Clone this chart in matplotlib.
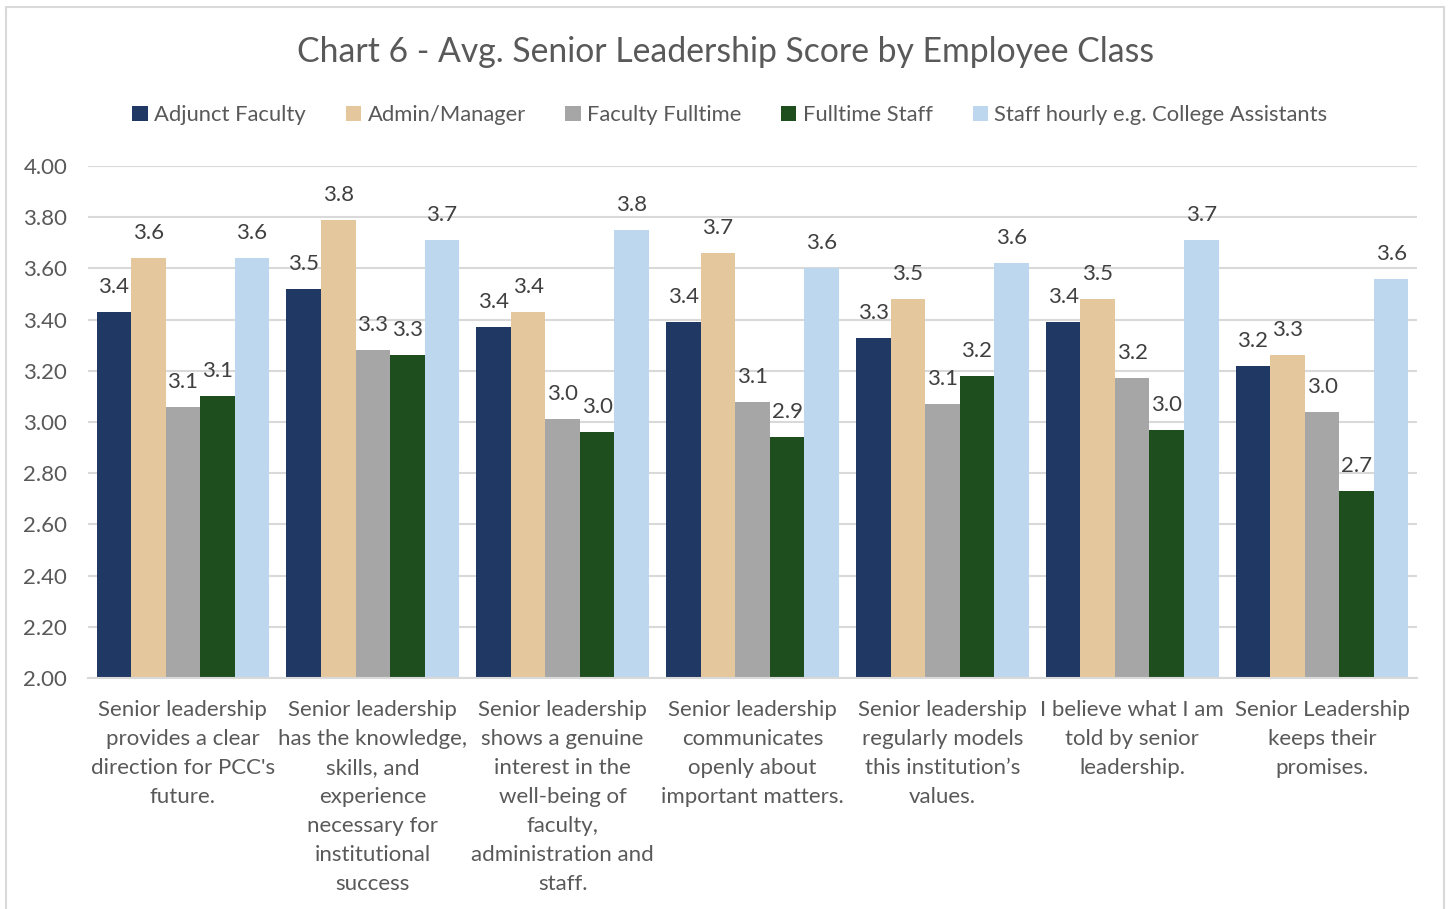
import numpy as np
import matplotlib.pyplot as plt
from matplotlib.patches import Rectangle

plt.rcParams['font.family'] = ['Lato', 'DejaVu Sans']

# === Data ===
categories = [
    "Senior leadership\nprovides a clear\ndirection for PCC's\nfuture.",
    "Senior leadership\nhas the knowledge,\nskills, and\nexperience\nnecessary for\ninstitutional\nsuccess",
    "Senior leadership\nshows a genuine\ninterest in the\nwell-being of\nfaculty,\nadministration and\nstaff.",
    "Senior leadership\ncommunicates\nopenly about\nimportant matters.",
    "Senior leadership\nregularly models\nthis institution\u2019s\nvalues.",
    "I believe what I am\ntold by senior\nleadership.",
    "Senior Leadership\nkeeps their\npromises.",
]
series_names = ["Adjunct Faculty", "Admin/Manager", "Faculty Fulltime",
                "Fulltime Staff", "Staff hourly e.g. College Assistants"]
adjunct = [3.43, 3.52, 3.37, 3.39, 3.33, 3.39, 3.22]
admin = [3.64, 3.79, 3.43, 3.66, 3.48, 3.48, 3.26]
faculty = [3.06, 3.28, 3.01, 3.08, 3.07, 3.17, 3.04]
ft_staff = [3.10, 3.26, 2.96, 2.94, 3.18, 2.97, 2.73]
hourly = [3.64, 3.71, 3.75, 3.60, 3.62, 3.71, 3.56]
yticks = [2.0, 2.2, 2.4, 2.6, 2.8, 3.0, 3.2, 3.4, 3.6, 3.8, 4.0]

colors = ["#203864", "#E4C79C", "#A6A6A6", "#1F4E1E", "#BDD7EE"]
text_col = "#595959"
fs = 16

# === Figure ===
fig = plt.figure(figsize=(14.49, 9.09), dpi=100)
fig.patches.append(Rectangle((6 / 1449, -0.01), 1438 / 1449, 1 - 7 / 909 + 0.01,
                             transform=fig.transFigure, fill=False,
                             edgecolor="#D9D9D9", linewidth=1.5))
ax = fig.add_axes([88 / 1449, 1 - 678 / 909, (1417 - 88) / 1449, (678 - 166) / 909])

all_series = [adjunct, admin, faculty, ft_staff, hourly]
x = np.arange(len(categories))
w = 0.182
for i, (vals, name, c) in enumerate(zip(all_series, series_names, colors)):
    pos = x + (i - 2) * w
    ax.bar(pos, np.array(vals) - 2.0, w, bottom=2.0, color=c, label=name, zorder=2)
    for xp, v in zip(pos, vals):
        ax.annotate(f"{v:.1f}", (xp, v), xytext=(0, 18), textcoords="offset points",
                    ha="center", va="center", fontsize=fs, color="#404040")

ax.set_ylim(2.0, 4.0)
ax.set_xlim(-0.5, len(categories) - 0.5)
ax.set_yticks(yticks)
ax.set_yticklabels([f"{t:.2f}" for t in yticks], fontsize=fs, color=text_col)
ax.set_xticks(x)
ax.set_xticklabels(categories, fontsize=fs, color=text_col, va="top")
for t in ax.get_xticklabels():
    t.set_linespacing(1.56)
ax.tick_params(axis="both", length=0)
ax.tick_params(axis="y", pad=15)
ax.tick_params(axis="x", pad=16)
ax.grid(axis="y", color="#D9D9D9", linewidth=1.5, zorder=0)
for s in ["top", "right", "left"]:
    ax.spines[s].set_visible(False)
ax.spines["bottom"].set_color("#D9D9D9")
ax.spines["bottom"].set_linewidth(1.5)

fig.text(726 / 1449, 1 - 52 / 909, "Chart 6 - Avg. Senior Leadership Score by Employee Class",
         ha="center", va="center", fontsize=24.3, color=text_col)
fig.legend(loc="center", bbox_to_anchor=(730 / 1449, 1 - 115 / 909), ncol=5, frameon=False,
           fontsize=15.8, labelcolor=text_col, handlelength=0.7, handleheight=0.7,
           handletextpad=0.3, columnspacing=1.8)

plt.savefig("out.png", dpi=100)
